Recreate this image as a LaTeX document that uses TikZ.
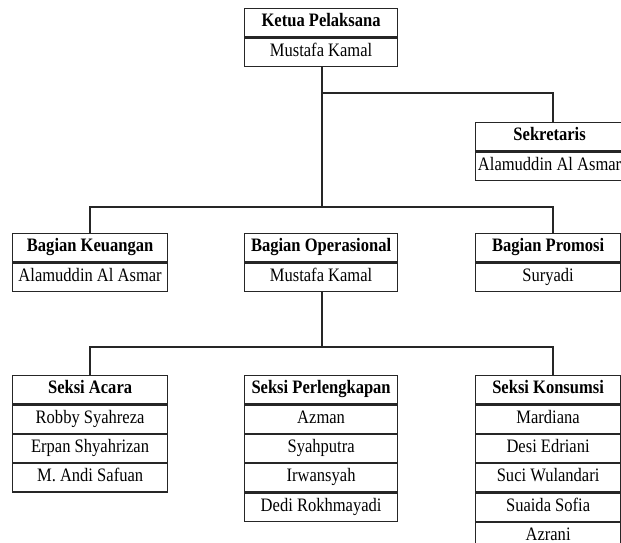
\documentclass[tikz,border=0pt]{standalone}
\usepackage{fontspec}
\newfontfamily\tnr[FakeStretch=0.87]{Liberation Serif}
\tikzset{
  cell/.style={draw=black!85, line width=1.2pt, inner sep=0pt, minimum height=28.2pt,
    text height=13pt, text depth=5pt,
    anchor=north west, font=\tnr\fontsize{19}{21}\selectfont},
  head/.style={cell, font=\tnr\bfseries\fontsize{19}{21}\selectfont},
  wA/.style={minimum width=153pt},
  wB/.style={minimum width=155pt},
  wC/.style={minimum width=145pt},
  wD/.style={minimum width=148pt},
  link/.style={draw=black!85, line width=1.2pt}
}
\begin{document}
\begin{tikzpicture}[x=1pt,y=-1pt]
\useasboundingbox (0,0) rectangle (621,543);
\clip (0,0) rectangle (621,543);
% Level 1
\node[head,wA] (k0) at (244,8) {Ketua Pelaksana};
\node[cell,wA] (k1) at (k0.south west) {Mustafa Kamal};
% Sekretaris
\node[head,wD] (s0) at (475,122) {Sekretaris};
\node[cell,wD] (s1) at (s0.south west) {Alamuddin Al Asmar};
% Level 2
\node[head,wB] (bk0) at (12,233) {Bagian Keuangan};
\node[cell,wB] (bk1) at (bk0.south west) {Alamuddin Al Asmar};
\node[head,wA] (bo0) at (244,233) {Bagian Operasional};
\node[cell,wA] (bo1) at (bo0.south west) {Mustafa Kamal};
\node[head,wC] (bp0) at (475,233) {Bagian Promosi};
\node[cell,wC] (bp1) at (bp0.south west) {Suryadi};
% Level 3
\node[head,wB] (a0) at (12,375) {Seksi Acara};
\node[cell,wB] (a1) at (a0.south west) {Robby Syahreza};
\node[cell,wB] (a2) at (a1.south west) {Erpan Shyahrizan};
\node[cell,wB] (a3) at (a2.south west) {M. Andi Safuan};
\node[head,wA] (p0) at (244,375) {Seksi Perlengkapan};
\node[cell,wA] (p1) at (p0.south west) {Azman};
\node[cell,wA] (p2) at (p1.south west) {Syahputra};
\node[cell,wA] (p3) at (p2.south west) {Irwansyah};
\node[cell,wA] (p4) at (p3.south west) {Dedi Rokhmayadi};
\node[head,wC] (c0) at (475,375) {Seksi Konsumsi};
\node[cell,wC] (c1) at (c0.south west) {Mardiana};
\node[cell,wC] (c2) at (c1.south west) {Desi Edriani};
\node[cell,wC] (c3) at (c2.south west) {Suci Wulandari};
\node[cell,wC] (c4) at (c3.south west) {Suaida Sofia};
\node[cell,wC] (c5) at (c4.south west) {Azrani};
% connectors
\coordinate (j1) at (322,93);
\coordinate (j2) at (322,207);
\coordinate (j3) at (322,347);
\draw[link] (k1.south -| j1) -- (j2);
\draw[link] (j1) -| (s0.north -| 553,0);
\draw[link] (bk0.north -| 90,0) |- (553,207) -- (bp0.north -| 553,0);
\draw[link] (bo1.south -| j3) -- (j3);
\draw[link] (a0.north -| 90,0) |- (553,347) -- (c0.north -| 553,0);
\end{tikzpicture}
\end{document}
